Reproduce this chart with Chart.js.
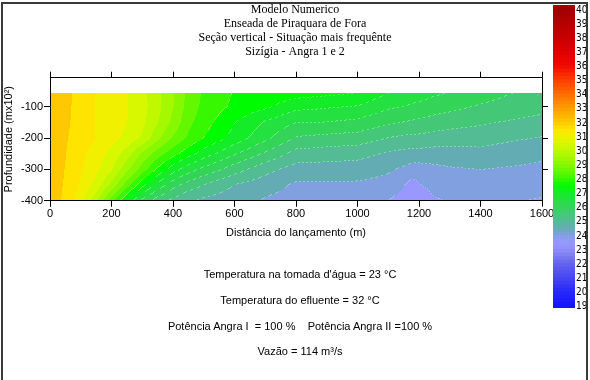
<!DOCTYPE html>
<html>
<head>
<meta charset="utf-8">
<script src="https://cdn.jsdelivr.net/npm/chart.js@4.4.1/dist/chart.umd.min.js"></script>
<style>
  html, body { margin: 0; padding: 0; background: #fff; }
  #wrap { position: relative; width: 590px; height: 380px; overflow: hidden; background: #fff; }
  #main { position: absolute; left: 0; top: 0; }
  #cbar { position: absolute; left: 553px; top: -10px; }
  .note { position: absolute; left: 0; width: 600px; text-align: center; white-space: pre;
          font-family: 'Liberation Sans', Arial, Helvetica, sans-serif; font-size: 11px; line-height: 13px; color: #000; }
  #frame { position: absolute; left: 1px; top: 2px; width: 583px; height: 420px; border: 2px solid #3a3a3a; pointer-events: none; }
</style>
</head>
<body>
<div id="wrap">
  <canvas id="main" width="590" height="380"></canvas>
  <canvas id="cbar" width="37" height="340"></canvas>
  <div id="notes"></div>
  <div id="frame"></div>
</div>
<script>
// ---------------- DATA ----------------
const titleLines = ['Modelo Numerico', 'Enseada de Piraquara de Fora', 'Seção vertical - Situação mais frequênte', 'Sizígia - Angra 1 e 2'];
const xTitle = 'Distância do lançamento (m)';
const yTitle = 'Profundidade (mx10²)';
const noteLines = ["Temperatura na tomada d'água = 23 °C", 'Temperatura do efluente = 32 °C',
                   'Potência Angra I  = 100 %    Potência Angra II =100 %', 'Vazão = 114 m³/s'];

const xTicks = [0, 200, 400, 600, 800, 1000, 1200, 1400, 1600];
const yTicks = [-400, -300, -200, -100];
const y2Ticks = [-300, -200, -100];
const cbarTicks = [19, 20, 21, 22, 23, 24, 25, 26, 27, 28, 29, 30, 31, 32, 33, 34, 35, 36, 37, 38, 39, 40];

// grid of the section: distance (m) and depth (m x10^2)
const gridX = [0, 50, 100, 150, 200, 250, 300, 350, 400, 450, 500, 600, 700, 800, 900, 1000, 1100, 1150, 1180, 1200, 1250, 1300, 1400, 1500, 1600];
const gridDepth = [-55, -100, -150, -200, -250, -300, -350, -400];

// temperature (°C) per depth row, one value per gridX
const temp_d055 = [32.4, 32.15, 31.82, 31.48, 31.25, 31.02, 30.68, 30.12, 29.56, 28.85, 28.43, 27.97, 27.85, 27.75, 27.65, 27.52, 27.02, 26.9, 26.8, 26.75, 26.6, 26.5, 26.25, 26.02, 25.85];
const temp_d100 = [32.4, 32.12, 31.81, 31.48, 31.25, 31.03, 30.69, 30.15, 29.52, 28.79, 28.37, 27.89, 27.61, 27.17, 27.07, 26.98, 26.59, 26.5, 26.42, 26.37, 26.25, 26.15, 25.95, 25.8, 25.65];
const temp_d150 = [32.4, 32.1, 31.79, 31.48, 31.25, 31.01, 30.64, 30.03, 29.36, 28.64, 28.22, 27.53, 26.95, 26.52, 26.5, 26.38, 26.1, 26.0, 25.94, 25.9, 25.8, 25.72, 25.58, 25.45, 25.35];
const temp_d200 = [32.35, 32.05, 31.77, 31.49, 31.2, 30.88, 30.42, 29.64, 28.94, 28.42, 28.0, 27.33, 26.64, 25.96, 25.86, 25.79, 25.5, 25.4, 25.38, 25.38, 25.3, 25.25, 25.2, 25.08, 24.98];
const temp_d250 = [32.3, 32.02, 31.65, 31.27, 30.85, 30.25, 29.42, 28.74, 28.2, 27.73, 27.29, 26.57, 25.93, 25.33, 25.25, 25.18, 24.95, 24.86, 24.83, 24.82, 24.8, 24.8, 24.87, 24.75, 24.63];
const temp_d300 = [32.3, 31.98, 31.57, 31.13, 30.56, 29.65, 28.75, 27.93, 27.25, 26.75, 26.38, 25.75, 25.19, 24.8, 24.79, 24.77, 24.58, 24.42, 24.28, 24.3, 24.38, 24.45, 24.51, 24.45, 24.38];
const temp_d350 = [32.25, 31.95, 31.44, 30.83, 29.88, 28.73, 27.7, 26.86, 26.22, 25.81, 25.5, 25.0, 24.72, 24.43, 24.43, 24.42, 24.32, 24.05, 23.8, 23.97, 24.15, 24.22, 24.3, 24.25, 24.2];
const temp_d400 = [32.25, 31.9, 31.19, 30.13, 28.72, 27.5, 26.4, 25.75, 25.38, 25.06, 24.91, 24.7, 24.45, 24.3, 24.3, 24.28, 24.0, 23.8, 23.65, 23.75, 23.95, 24.05, 24.1, 24.05, 23.95];
const tempRows = [temp_d055, temp_d100, temp_d150, temp_d200, temp_d250, temp_d300, temp_d350, temp_d400];

// colour scale (°C -> colour)
const cmapT = [19, 20, 21, 22, 22.5, 23, 23.5, 24, 24.5, 25, 25.5, 26, 26.5, 27, 27.5, 28, 28.5, 29, 29.5, 30, 30.5, 31, 31.5, 32, 33, 34, 35, 36, 37, 38, 39, 40];
const cmapC = ['#1414ff', '#2828fa', '#4848f2', '#6464ee', '#7c7cf2', '#9090f8', '#9898ff', '#80a0e0', '#64acb4', '#54bc94', '#44c878', '#34d458', '#24e040', '#14ec28', '#00fc00', '#38f800', '#64f800', '#88f800', '#a4f800', '#c0f800', '#d8f800', '#f0f000', '#ffe400', '#ffc800', '#ff9c00', '#ff6c00', '#ff3c00', '#f00800', '#e00000', '#c80000', '#b40000', '#a00000'];
const bandStep = 0.5;
const contourLineMax = 28.5;   // dotted contour lines are visible in the green/blue range

// ---------------- HELPERS ----------------
const SANS = "'Liberation Sans', Arial, Helvetica, sans-serif";
const SERIF = "'Liberation Serif', 'Times New Roman', serif";
const NARROW = "'Liberation Sans Narrow', 'DejaVu Sans Condensed', 'Liberation Sans', sans-serif";

function hexToRgb(h) { return [parseInt(h.slice(1,3),16), parseInt(h.slice(3,5),16), parseInt(h.slice(5,7),16)]; }
const cmapRgb = cmapC.map(hexToRgb);
function rgbAt(t) {
  if (t <= cmapT[0]) return cmapRgb[0].slice();
  if (t >= cmapT[cmapT.length-1]) return cmapRgb[cmapRgb.length-1].slice();
  let k = 0; while (t > cmapT[k+1]) k++;
  const f = (t - cmapT[k]) / (cmapT[k+1] - cmapT[k]);
  const a = cmapRgb[k], b = cmapRgb[k+1];
  return a.map((v, i) => Math.round(v + (b[i]-v)*f));
}
function colorAt(t) { return 'rgb(' + rgbAt(t).join(',') + ')'; }
function lightAt(t) { return 'rgb(' + rgbAt(t).map(v => Math.round(v + (255 - v) * 0.32)).join(',') + ')'; }
function clamp(v, a, b) { return Math.max(a, Math.min(b, v)); }
function tempAt(xv, dv) {
  let i = 0; while (i < gridX.length - 2 && xv > gridX[i+1]) i++;
  let j = 0; while (j < gridDepth.length - 2 && dv < gridDepth[j+1]) j++;
  const tx = clamp((xv - gridX[i]) / (gridX[i+1] - gridX[i]), 0, 1);
  const ty = clamp((dv - gridDepth[j]) / (gridDepth[j+1] - gridDepth[j]), 0, 1);
  const r0 = tempRows[j], r1 = tempRows[j+1];
  const a = r0[i]*(1-tx) + r0[i+1]*tx;
  const b = r1[i]*(1-tx) + r1[i+1]*tx;
  return a*(1-ty) + b*ty;
}

// filled contour drawn through the chart's scales
const contourPlugin = {
  id: 'contourFill',
  beforeDraw(chart) {
    const {ctx, scales: {x, y}} = chart;
    const px0 = Math.round(x.getPixelForValue(gridX[0]));
    const px1 = Math.round(x.getPixelForValue(gridX[gridX.length-1]));
    const py0 = Math.round(y.getPixelForValue(gridDepth[0]));
    const py1 = Math.round(y.getPixelForValue(gridDepth[gridDepth.length-1]));
    const W = px1 - px0, H = py1 - py0;
    const band = new Int16Array(W * H);
    for (let r = 0; r < H; r++) {
      const dv = y.getValueForPixel(py0 + r + 0.5);
      for (let c = 0; c < W; c++) {
        band[r*W + c] = Math.floor(tempAt(x.getValueForPixel(px0 + c + 0.5), dv) / bandStep + 1e-9);
      }
    }
    const fillCache = {}, lineCache = {};
    const fillCol = b => fillCache[b] || (fillCache[b] = colorAt(b * bandStep));
    const lineCol = b => lineCache[b] || (lineCache[b] = lightAt(b * bandStep));
    ctx.save();
    for (let r = 0; r < H; r++) {
      let start = 0;
      for (let c = 1; c <= W; c++) {
        if (c === W || band[r*W + c] !== band[r*W + start]) {
          ctx.fillStyle = fillCol(band[r*W + start]);
          ctx.fillRect(px0 + start, py0 + r, c - start, 1);
          start = c;
        }
      }
    }
    // dotted contour lines along band edges
    for (let r = 0; r < H; r++) {
      for (let c = 0; c < W; c++) {
        const b = band[r*W + c];
        const edge = (c + 1 < W && band[r*W + c + 1] < b) || (r + 1 < H && band[(r+1)*W + c] < b);
        if (edge && b * bandStep < contourLineMax && ((px0 + c + py0 + r) % 4) < 2) {
          ctx.fillStyle = lineCol(b);
          ctx.fillRect(px0 + c, py0 + r, 1, 1);
        }
      }
    }
    ctx.restore();
  }
};

const points = [];
gridDepth.forEach((d, j) => gridX.forEach((xv, i) => points.push({x: xv, y: d, t: tempRows[j][i]})));

const tickFmt = v => String(v);
const axisCommon = {
  type: 'linear',
  border: {display: true, color: '#000', width: 1},
  grid: {drawOnChartArea: false, drawTicks: true, tickLength: 6, color: '#000', lineWidth: 1},
};

new Chart(document.getElementById('main'), {
  type: 'scatter',
  data: {datasets: [{data: points, pointRadius: 0, pointHoverRadius: 0, showLine: false}]},
  options: {
    responsive: false, animation: false, events: [],
    layout: {padding: {left: 0, right: 0, top: 0, bottom: 139.3}},
    plugins: {
      legend: {display: false}, tooltip: {enabled: false},
      title: {display: true, text: titleLines, color: '#000',
              font: {family: SERIF, size: 12, weight: 'normal', lineHeight: 14/12},
              padding: {top: 3, bottom: 12.7}}
    },
    scales: {
      x: {...axisCommon, position: 'bottom', min: 0, max: 1600,
          afterBuildTicks: s => { s.ticks = xTicks.map(v => ({value: v})); },
          afterFit: s => { s.height = 40; },
          ticks: {color: '#000', font: {family: SANS, size: 11}, padding: 1, maxRotation: 0, autoSkip: false, callback: tickFmt},
          title: {display: true, text: xTitle, color: '#000', font: {family: SANS, size: 11}, padding: {top: 6, bottom: 1}}},
      x2: {...axisCommon, position: 'top', min: 0, max: 1600,
          afterBuildTicks: s => { s.ticks = xTicks.map(v => ({value: v})); },
          afterFit: s => { s.height = 6; },
          ticks: {display: false}},
      y: {...axisCommon, position: 'left', min: -400, max: -7,
          afterBuildTicks: s => { s.ticks = yTicks.map(v => ({value: v})); },
          afterFit: s => { s.width = 50; },
          ticks: {color: '#000', font: {family: SANS, size: 11}, padding: 1, autoSkip: false, callback: tickFmt},
          title: {display: true, text: yTitle, color: '#000', font: {family: SANS, size: 11}, padding: {top: 2, bottom: 0}}},
      y2: {...axisCommon, position: 'right', min: -400, max: -7,
          afterBuildTicks: s => { s.ticks = y2Ticks.map(v => ({value: v})); },
          afterFit: s => { s.width = 48; },
          ticks: {display: false}}
    }
  },
  plugins: [contourPlugin]
});

// ---------------- COLOUR BAR ----------------
const cbLo = cbarTicks[0] - 0.1, cbHi = cbarTicks[cbarTicks.length-1] + 0.35;
const cbSegs = [];
cbSegs.push({lo: cbLo, hi: cbarTicks[0] + 0.05, t: cbarTicks[0]});
for (let t = cbarTicks[0]; t < cbarTicks[cbarTicks.length-1]; t += 0.25) cbSegs.push({lo: t, hi: t + 0.3, t: t + 0.125});
cbSegs.push({lo: cbarTicks[cbarTicks.length-1] - 0.02, hi: cbHi, t: cbarTicks[cbarTicks.length-1]});

new Chart(document.getElementById('cbar'), {
  type: 'bar',
  data: {labels: [''], datasets: cbSegs.map(s => ({data: [[s.lo, s.hi]], backgroundColor: colorAt(s.t), borderWidth: 0,
        grouped: false, barPercentage: 1, categoryPercentage: 1}))},
  options: {
    responsive: false, animation: false, events: [],
    layout: {padding: {top: 15, bottom: 22, left: 0, right: 0}},
    plugins: {legend: {display: false}, tooltip: {enabled: false}},
    scales: {
      x: {display: false},
      y: {position: 'right', min: cbLo, max: cbHi,
          afterBuildTicks: s => { s.ticks = cbarTicks.map(v => ({value: v})); },
          afterFit: s => { s.width = 15; },
          grid: {display: false, drawTicks: false}, border: {display: false},
          ticks: {padding: 1, color: '#000', font: {family: NARROW, size: 10}, autoSkip: false, callback: tickFmt}}
    }
  }
});

// ---------------- NOTES ----------------
const noteY = [274, 300, 326, 351];
const notesEl = document.getElementById('notes');
noteLines.forEach((t, i) => {
  const d = document.createElement('div');
  d.className = 'note';
  d.style.top = (noteY[i] - 6.5) + 'px';
  d.textContent = t;
  notesEl.appendChild(d);
});
</script>
</body>
</html>
